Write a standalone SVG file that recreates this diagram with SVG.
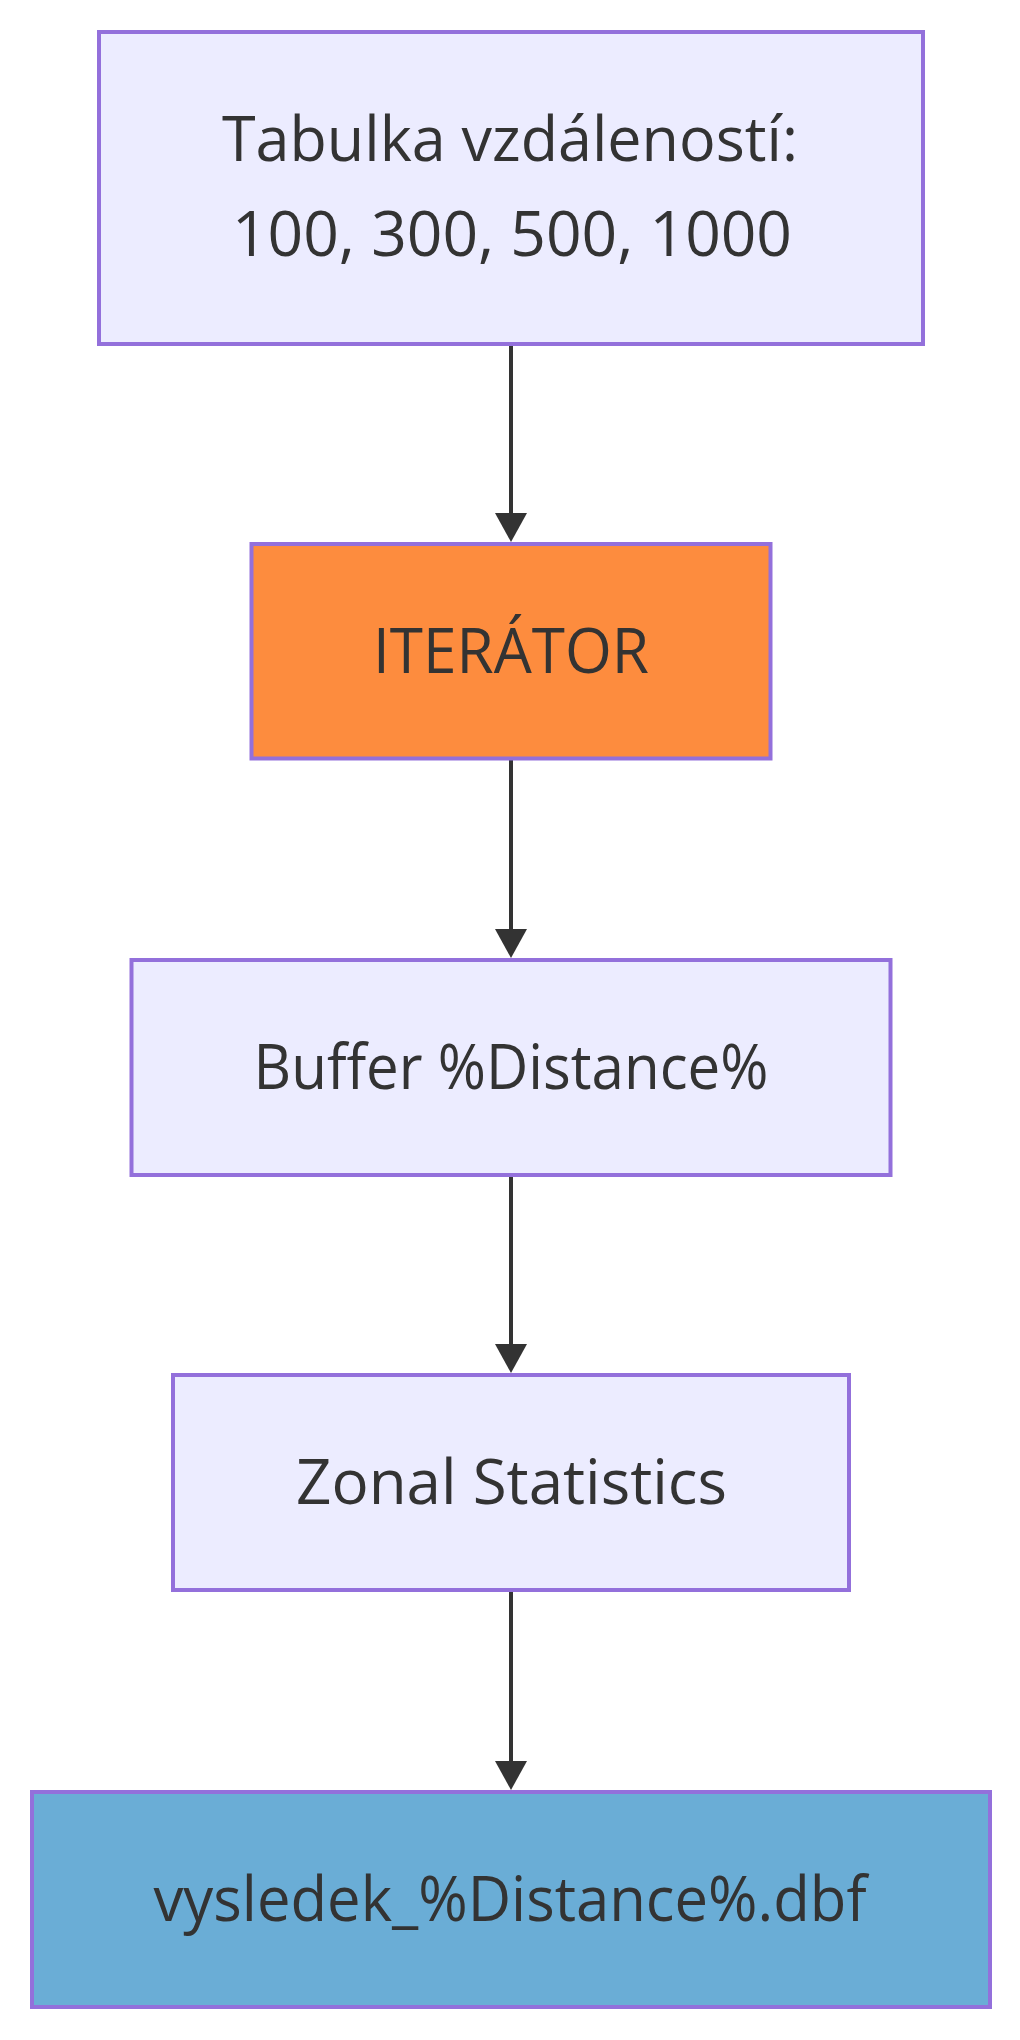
<svg xmlns="http://www.w3.org/2000/svg" width="1020" height="2040" viewBox="0 0 1020 2040">
<style>
.node rect{fill:#ECECFF;stroke:#9370DB;stroke-width:4}
.node.iter rect{fill:#FD8C3E}
.node.out rect{fill:#6AADD6}
.node text{font-family:"Open Sans","Noto Sans","DejaVu Sans",sans-serif;font-size:63px;fill:#333333;text-anchor:middle}
.edge{stroke:#333333;stroke-width:4;fill:none}
</style>
<defs>
<marker id="arrow" markerUnits="userSpaceOnUse" viewBox="0 0 29 32" markerWidth="29" markerHeight="32" refX="9" refY="16" orient="auto">
<path d="M0,0 L29,16 L0,32 z" fill="#333333"/>
</marker>
</defs>
<rect x="0" y="0" width="1020" height="2040" fill="#ffffff"/>
<g id="connectors">
<path class="edge" d="M511,346 L511,522" marker-end="url(#arrow)"/>
<path class="edge" d="M511,760 L511,938" marker-end="url(#arrow)"/>
<path class="edge" d="M511,1177 L511,1353" marker-end="url(#arrow)"/>
<path class="edge" d="M511,1592 L511,1770" marker-end="url(#arrow)"/>
</g>
<g id="tabulka" class="node">
<rect x="99" y="32" width="824" height="312"/>
<text x="510" y="161" textLength="576" lengthAdjust="spacingAndGlyphs">Tabulka vzdáleností:</text>
<text x="512" y="256" textLength="560" lengthAdjust="spacingAndGlyphs">100, 300, 500, 1000</text>
</g>
<g id="iterator" class="node iter">
<rect x="251.5" y="544" width="519" height="214.5"/>
<text x="511" y="672.5" textLength="276" lengthAdjust="spacingAndGlyphs">ITERÁTOR</text>
</g>
<g id="buffer" class="node">
<rect x="131.5" y="960" width="759" height="215"/>
<text x="511" y="1089" textLength="515" lengthAdjust="spacingAndGlyphs">Buffer %Distance%</text>
</g>
<g id="zonal" class="node">
<rect x="173" y="1375" width="676" height="215"/>
<text x="511.5" y="1504" textLength="431" lengthAdjust="spacingAndGlyphs">Zonal Statistics</text>
</g>
<g id="vysledek" class="node out">
<rect x="32" y="1792" width="958" height="215"/>
<text x="510" y="1921" textLength="713" lengthAdjust="spacingAndGlyphs">vysledek_%Distance%.dbf</text>
</g>
</svg>
